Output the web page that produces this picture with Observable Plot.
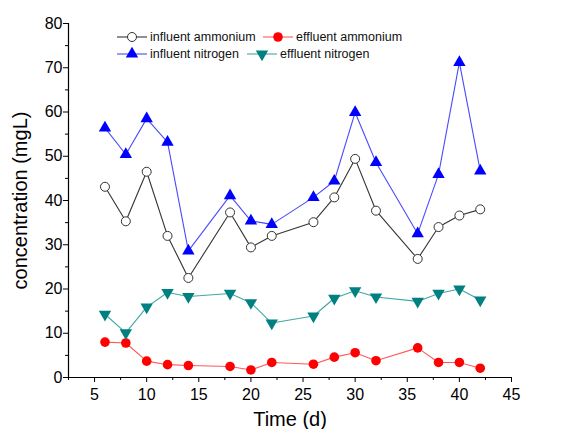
<!DOCTYPE html>
<html>
<head>
<meta charset="utf-8">
<script src="https://cdn.jsdelivr.net/npm/d3@7"></script>
<script src="https://cdn.jsdelivr.net/npm/@observablehq/plot@0.6"></script>
<style>
  html, body { margin: 0; padding: 0; background: #fff; }
  #chart { position: relative; width: 561px; height: 429px; overflow: hidden; }
  #chart svg { display: block; }
  g[aria-label="x-axis label"], g[aria-label="y-axis label"] { font-size: 20px; }
  #legend { position: absolute; left: 0; top: 0; pointer-events: none; }
</style>
</head>
<body>
<div id="chart"></div>
<script>
// Sampling days
const days = [6, 8, 10, 12, 14, 18, 20, 22, 26, 28, 30, 32, 36, 38, 40, 42];

// Concentrations (mg/L)
const influentAmmonium = [43.1, 35.3, 46.5, 32.0, 22.5, 37.3, 29.4, 32.0, 35.1, 40.7, 49.4, 37.7, 26.8, 34.0, 36.6, 38.0];
const effluentAmmonium = [8.0, 7.8, 3.7, 2.9, 2.7, 2.5, 1.7, 3.4, 3.0, 4.6, 5.6, 3.8, 6.7, 3.4, 3.4, 2.1];
const influentNitrogen = [56.4, 50.4, 58.5, 53.2, 28.6, 41.1, 35.4, 34.6, 40.7, 44.4, 59.9, 48.6, 32.5, 45.9, 71.2, 46.7];
const effluentNitrogen = [14.3, 10.1, 15.9, 19.2, 18.3, 19.0, 16.9, 12.3, 13.9, 17.9, 19.6, 18.2, 17.2, 19.0, 20.0, 17.5];

// Axis ticks
const xMajorTicks = [5, 10, 15, 20, 25, 30, 35, 40, 45];
const xMinorTicks = [2.5, 7.5, 12.5, 17.5, 22.5, 27.5, 32.5, 37.5, 42.5];
const yMajorTicks = [0, 10, 20, 30, 40, 50, 60, 70, 80];
const yMinorTicks = [5, 15, 25, 35, 45, 55, 65, 75];

// Series styling
const series = [
  {name: "influent ammonium", values: influentAmmonium, line: "#333333", fill: "#ffffff", stroke: "#333333", symbol: "circle", rotate: 0, r: 4.5},
  {name: "effluent ammonium", values: effluentAmmonium, line: "#ff5a5a", fill: "#ff0000", stroke: "none", symbol: "circle", rotate: 0, r: 4.8},
  {name: "influent nitrogen", values: influentNitrogen, line: "#4a4aff", fill: "#0000ff", stroke: "none", symbol: "triangle", rotate: 0, r: 4.6},
  {name: "effluent nitrogen", values: effluentNitrogen, line: "#40a8a0", fill: "#008080", stroke: "none", symbol: "triangle", rotate: 180, r: 4.6}
];

const rows = series.flatMap(s => days.map((d, i) => ({day: d, value: s.values[i], name: s.name})));

const seriesMarks = series.flatMap(s => {
  const data = rows.filter(r => r.name === s.name);
  return [
    Plot.line(data, {x: "day", y: "value", stroke: s.line, strokeWidth: 1.1}),
    Plot.dot(data, {x: "day", y: "value", symbol: s.symbol, r: s.r, fill: s.fill, stroke: s.stroke, strokeWidth: 1, rotate: s.rotate})
  ];
});

const chart = Plot.plot({
  width: 561,
  height: 429,
  marginLeft: 68,
  marginRight: 50,
  marginTop: 23,
  marginBottom: 52,
  style: {fontFamily: "'Liberation Sans', Arial, sans-serif", fontSize: "16px", color: "#000", background: "#fff"},
  x: {domain: [2.5, 45]},
  y: {domain: [0, 80]},
  marks: [
    Plot.axisX({ticks: xMajorTicks, tickSize: 5, tickPadding: 6, label: "Time (d)", labelAnchor: "center", labelOffset: 48, labelArrow: "none"}),
    Plot.axisX({ticks: xMinorTicks, tickSize: 3, tickFormat: () => "", label: null}),
    Plot.axisY({ticks: yMajorTicks, tickSize: 5, tickPadding: 1, label: "concentration (mgL)", labelAnchor: "center", labelOffset: 56, labelArrow: "none"}),
    Plot.axisY({ticks: yMinorTicks, tickSize: 3, tickFormat: () => "", label: null}),
    Plot.ruleX([2.5], {stroke: "#000", strokeWidth: 1.2}),
    Plot.ruleY([0], {stroke: "#000", strokeWidth: 1.2}),
    ...seriesMarks
  ]
});

const container = document.getElementById("chart");
container.appendChild(chart);

// Legend drawn as an overlay inside the plot area
const legendItems = [
  {s: series[0], x: 117, y: 37},
  {s: series[1], x: 263, y: 37},
  {s: series[2], x: 117, y: 54},
  {s: series[3], x: 247, y: 54}
];
const legend = d3.select(container).append("svg")
  .attr("id", "legend")
  .attr("width", 561)
  .attr("height", 429)
  .style("font-family", "'Liberation Sans', Arial, sans-serif")
  .style("font-size", "12.5px");
const symbolTypes = {circle: d3.symbolCircle, triangle: d3.symbolTriangle};
for (const {s, x, y} of legendItems) {
  const g = legend.append("g").attr("transform", `translate(${x},${y})`);
  g.append("line").attr("x1", 0).attr("x2", 30).attr("y1", 0).attr("y2", 0)
    .attr("stroke", s.line).attr("stroke-width", 1.1);
  g.append("path")
    .attr("d", d3.symbol(symbolTypes[s.symbol], Math.PI * s.r * s.r)())
    .attr("transform", `translate(15,0) rotate(${s.rotate})`)
    .attr("fill", s.fill).attr("stroke", s.stroke);
  g.append("text").attr("x", 33).attr("y", 0).attr("dy", "0.35em")
    .attr("fill", "#111").text(s.name);
}
</script>
</body>
</html>
